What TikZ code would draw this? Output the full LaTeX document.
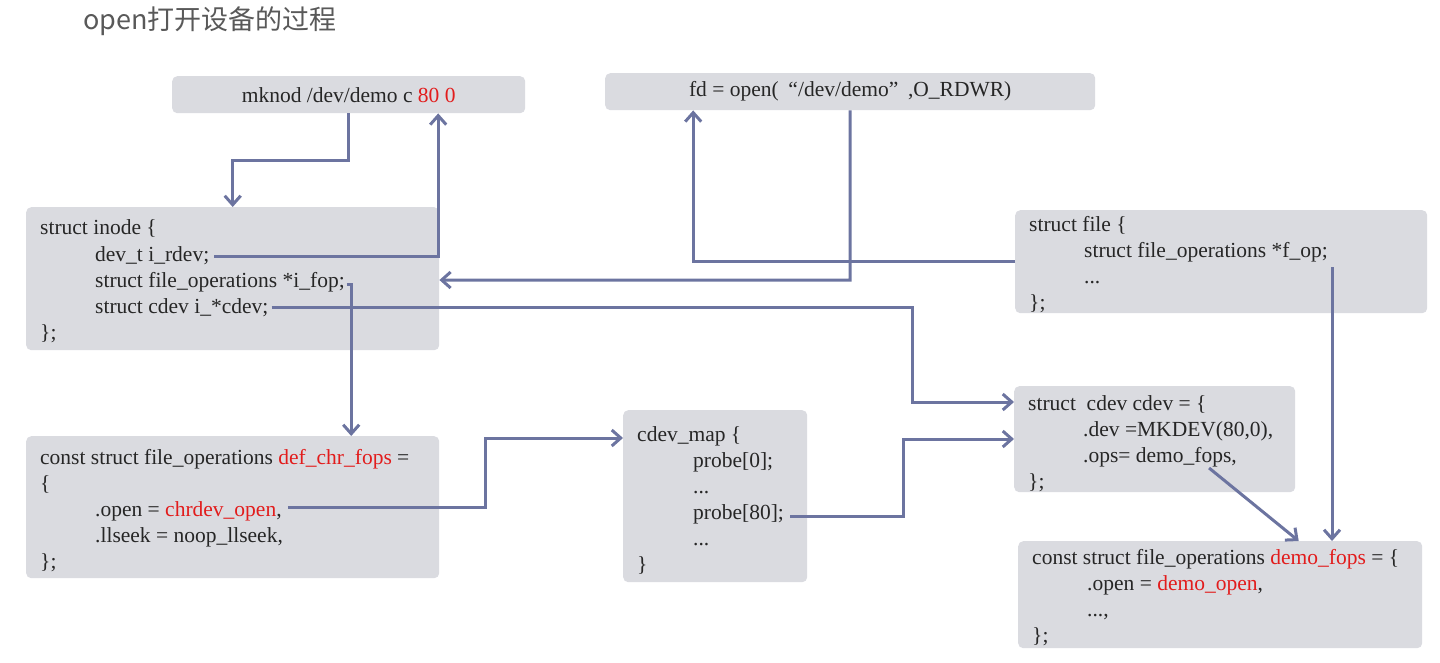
\documentclass[tikz,border=0pt]{standalone}
\usepackage{fontspec}
\setmainfont{Liberation Serif}
\newfontfamily\cjk{Noto Sans CJK SC}
\usetikzlibrary{arrows.meta,calc}
\definecolor{boxfill}{RGB}{218,219,224}
\definecolor{conncol}{RGB}{108,116,160}
\definecolor{codered}{RGB}{226,28,28}
\definecolor{codetext}{RGB}{38,38,38}
\definecolor{titlecol}{RGB}{89,89,89}
\newcommand\hl[1]{\textcolor{codered}{#1}}
\begin{document}
\begin{tikzpicture}[x=1pt,y=-1pt,
  box/.style={fill=boxfill, rounded corners=5pt, draw=none, anchor=north west, inner sep=0pt},
  code/.style={anchor=base west, inner sep=0pt, font=\fontsize{21.5}{26}\selectfont, text=codetext},
  conn/.style={draw=conncol, line width=3pt, -{Straight Barb[length=9pt,width=16pt]}}]
\useasboundingbox (0,0) rectangle (1440,663);

% title
\node[anchor=west, inner sep=0pt, font=\cjk\fontsize{27}{30}\selectfont, text=titlecol] (title) at (83,21) {open打开设备的过程};

% boxes
\node[box, minimum width=353pt, minimum height=37pt, font=\fontsize{21.5}{26}\selectfont, text=codetext] (mknod) at (172,76) {mknod /dev/demo c \hl{80 0}};
\node[box, minimum width=490pt, minimum height=37pt, font=\fontsize{21.5}{26}\selectfont, text=codetext] (fdopen) at (605,73) {fd = open(\hspace{0.45em}“/dev/demo”\hspace{0.45em},O\_RDWR)};
\node[box, minimum width=413pt, minimum height=143pt] (inode) at (26,207) {};
\node[box, minimum width=412pt, minimum height=103pt] (file) at (1015,210) {};
\node[box, minimum width=413pt, minimum height=142pt] (chr) at (26,436) {};
\node[box, minimum width=184pt, minimum height=172pt] (map) at (623,410) {};
\node[box, minimum width=281pt, minimum height=106pt] (cdev) at (1014,386) {};
\node[box, minimum width=404pt, minimum height=107pt] (dfops) at (1018,541) {};

% inode text
\node[code] (in1) at (40,235) {struct inode \{};
\node[code] (rdev) at (95,261) {dev\_t i\_rdev;};
\node[code] (ifop) at (95,287) {struct file\_operations *i\_fop;};
\node[code] (icdev) at (95,313) {struct cdev i\_*cdev;};
\node[code] (in5) at (40,339) {\};};

% file text
\node[code] (f1) at (1029,231) {struct file \{};
\node[code] (fop) at (1084,257) {struct file\_operations *f\_op;};
\node[code] (f3) at (1084,283) {...};
\node[code] (f4) at (1029,309) {\};};

% def_chr_fops text
\node[code] (c1) at (40,464) {const struct file\_operations \hl{def\_chr\_fops} =};
\node[code] (c2) at (40,490) {\{};
\node[code] (chrop) at (95,516) {.open = \hl{chrdev\_open},};
\node[code] (c4) at (95,542) {.llseek = noop\_llseek,};
\node[code] (c5) at (40,568) {\};};

% cdev_map text
\node[code] (m1) at (637,441) {cdev\_map \{};
\node[code] (m2) at (693,467) {probe[0];};
\node[code] (m3) at (693,493) {...};
\node[code] (probe) at (693,519) {probe[80];};
\node[code] (m5) at (693,545) {...};
\node[code] (m6) at (637,571) {\}};

% cdev text
\node[code] (d1) at (1028,410) {struct\ \ cdev cdev = \{};
\node[code] (d2) at (1083,436) {.dev =MKDEV(80,0),};
\node[code] (ops) at (1083,462) {.ops= demo\_fops,};
\node[code] (d4) at (1028,488) {\};};

% demo_fops text
\node[code] (e1) at (1032,564) {const struct file\_operations \hl{demo\_fops} = \{};
\node[code] (e2) at (1087,590) {.open = \hl{demo\_open},};
\node[code] (e3) at (1087,616) {...,};
\node[code] (e4) at (1032,642) {\};};

% bend points
\coordinate (k3) at (850,280);
\coordinate (k6) at (912,402);
\coordinate (k7) at (485,438);
\coordinate (k8) at (903,439);
\path ([shift={(4,10)}]fop.base east) coordinate (s10);

% connectors
\draw[conn] (mknod.south) -- ++(0,47) -| (inode.north);
\draw[conn] ([shift={(5,-5)}]rdev.base east) -| ([xshift=89.5pt]mknod.south);
\draw[conn] (fdopen.south) -- (k3) -- (inode.east |- k3);
\draw[conn] (file.west) -| ([xshift=-157pt]fdopen.south);
\draw[conn] ([shift={(2,-3)}]ifop.base east) -| ([xshift=118.5pt]chr.north);
\draw[conn] ([shift={(3,-6)}]icdev.base east) -| (k6) -- (cdev.west |- k6);
\draw[conn] ([shift={(6,-9)}]chrop.base east) -| (k7) -- (map.west |- k7);
\draw[conn] ([shift={(6,-3)}]probe.base east) -| (k8) -- (cdev.west |- k8);
\draw[conn] ([shift={(-28,6)}]ops.base east) -- ([xshift=78.5pt]dfops.north);
\draw[conn] (s10) -- (s10 |- dfops.north);
\end{tikzpicture}
\end{document}
